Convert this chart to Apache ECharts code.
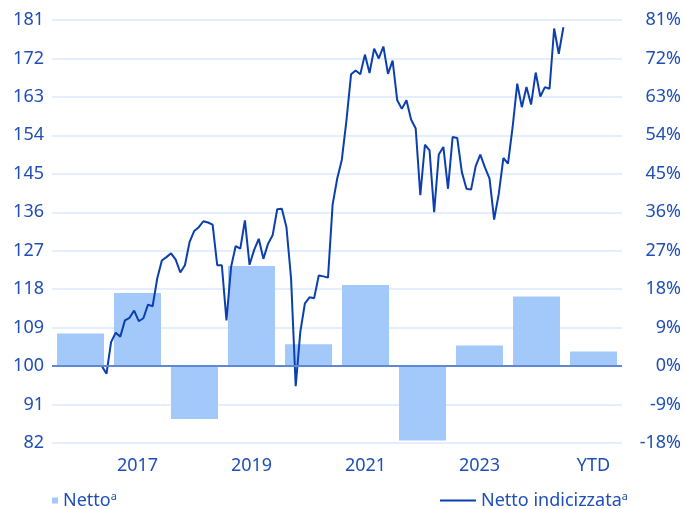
<!DOCTYPE html>
<html>
<head>
<meta charset="utf-8">
<script src="https://cdn.jsdelivr.net/npm/echarts@6/dist/echarts.min.js"></script>
<style>
  html, body { margin: 0; padding: 0; background: #fff; }
  #main { width: 684px; height: 509px; }
</style>
</head>
<body>
<div id="main"></div>
<script>
// anni (barre) - l'ultimo è YTD
var years = ['2016', '2017', '2018', '2019', '2020', '2021', '2022', '2023', '2024', 'YTD'];
// Netto, % annuo (asse destro)
var nettoPct = [7.6, 17.1, -12.4, 23.4, 5.1, 19.0, -17.4, 4.8, 16.3, 3.4];

// Netto indicizzata, mensile da ott 2016 (asse sinistro, base 100)
var lineStartYear = 2016;
var lineStartMonth = 10;
var nettoIndex = [
    100.0, 100.0, 98.2,
    105.6, 107.8, 106.9, 110.7, 111.3, 113.0, 110.5, 111.2, 114.4, 114.0, 120.5, 124.7,
    125.5, 126.4, 124.9, 121.9, 123.6, 129.0, 131.6, 132.5, 133.9, 133.6, 133.1, 123.6,
    123.6, 110.7, 123.2, 128.1, 127.5, 134.1, 123.7, 127.2, 129.8, 125.1, 128.6, 130.6,
    136.7, 136.8, 132.5, 120.5, 95.3, 108.0, 114.7, 116.1, 115.9, 121.2, 121.0, 120.7,
    137.8, 143.9, 148.3, 157.5, 168.3, 169.2, 168.3, 172.9, 168.6, 174.3, 172.0, 174.8,
    168.4, 171.5, 162.2, 160.2, 162.2, 157.7, 155.6, 140.0, 151.8, 150.5, 136.0, 149.5,
    151.3, 141.5, 153.6, 153.4, 145.4, 141.5, 141.3, 146.8, 149.5, 146.5, 143.9, 134.3,
    140.3, 148.7, 147.4, 155.9, 166.1, 160.6, 165.3, 161.2, 168.7, 163.1, 165.3, 164.9,
    179.0, 173.1, 179.3
];

var TXT = '#1f4fb6';

// punti linea: [mese dal gen 2016, valore]
var lineData = [];
var m0 = (lineStartYear - 2016) * 12 + (lineStartMonth - 1);
for (var i = 0; i < nettoIndex.length; i++) {
    lineData.push([m0 + i, nettoIndex[i]]);
}

var legendFmt = function (name) {
    return name + '{sup|a}';
};
var legendText = {
    color: TXT,
    fontSize: 18,
    fontFamily: 'Noto Sans',
    rich: {
        sup: { fontSize: 11, color: TXT, fontFamily: 'Noto Sans', padding: [0, 0, 8, 0] }
    }
};

var option = {
    animation: false,
    grid: { left: 52, right: 62, top: 20, bottom: 66 },
    legend: [
        {
            data: ['Netto'],
            left: 52, top: 491, padding: 0,
            icon: 'rect', itemWidth: 6, itemHeight: 6,
            formatter: legendFmt, textStyle: legendText
        },
        {
            data: ['Netto indicizzata'],
            left: 440, top: 491, padding: 0,
            icon: 'rect', itemWidth: 36, itemHeight: 2,
            formatter: legendFmt, textStyle: legendText
        }
    ],
    xAxis: [
        {
            type: 'category',
            data: years,
            axisLine: { show: false },
            axisTick: { show: false },
            axisLabel: {
                color: TXT, fontSize: 18, fontFamily: 'Noto Sans', margin: 14,
                interval: function (idx) { return idx % 2 === 1; }
            }
        },
        {
            type: 'value',
            min: -0.8, max: 122.7,
            show: false
        }
    ],
    yAxis: [
        {
            type: 'value',
            min: 82, max: 181, interval: 9,
            axisLine: { show: false },
            axisTick: { show: false },
            axisLabel: { color: TXT, fontSize: 18, fontFamily: 'Noto Sans', margin: 8 },
            splitLine: { lineStyle: { color: '#dde9fb', width: 1.5 } }
        },
        {
            type: 'value',
            min: -18, max: 81, interval: 9,
            axisLine: { show: false },
            axisTick: { show: false },
            axisLabel: {
                color: TXT, fontSize: 18, fontFamily: 'Noto Sans',
                align: 'right', margin: 59, formatter: '{value}%'
            },
            splitLine: { show: false }
        }
    ],
    series: [
        {
            name: 'Netto',
            type: 'bar',
            xAxisIndex: 0,
            yAxisIndex: 1,
            barWidth: 47,
            data: nettoPct,
            itemStyle: { color: '#a3c9fb' },
            markLine: {
                silent: true,
                symbol: 'none',
                label: { show: false },
                lineStyle: { color: '#5d88d6', width: 2, type: 'solid' },
                data: [{ yAxis: 0 }]
            }
        },
        {
            name: 'Netto indicizzata',
            type: 'line',
            xAxisIndex: 1,
            yAxisIndex: 0,
            showSymbol: false,
            symbol: 'none',
            data: lineData,
            lineStyle: { color: '#0b3fae', width: 2 },
            itemStyle: { color: '#0b3fae' }
        }
    ]
};

var chart = echarts.init(document.getElementById('main'));
chart.setOption(option);
</script>
</body>
</html>
